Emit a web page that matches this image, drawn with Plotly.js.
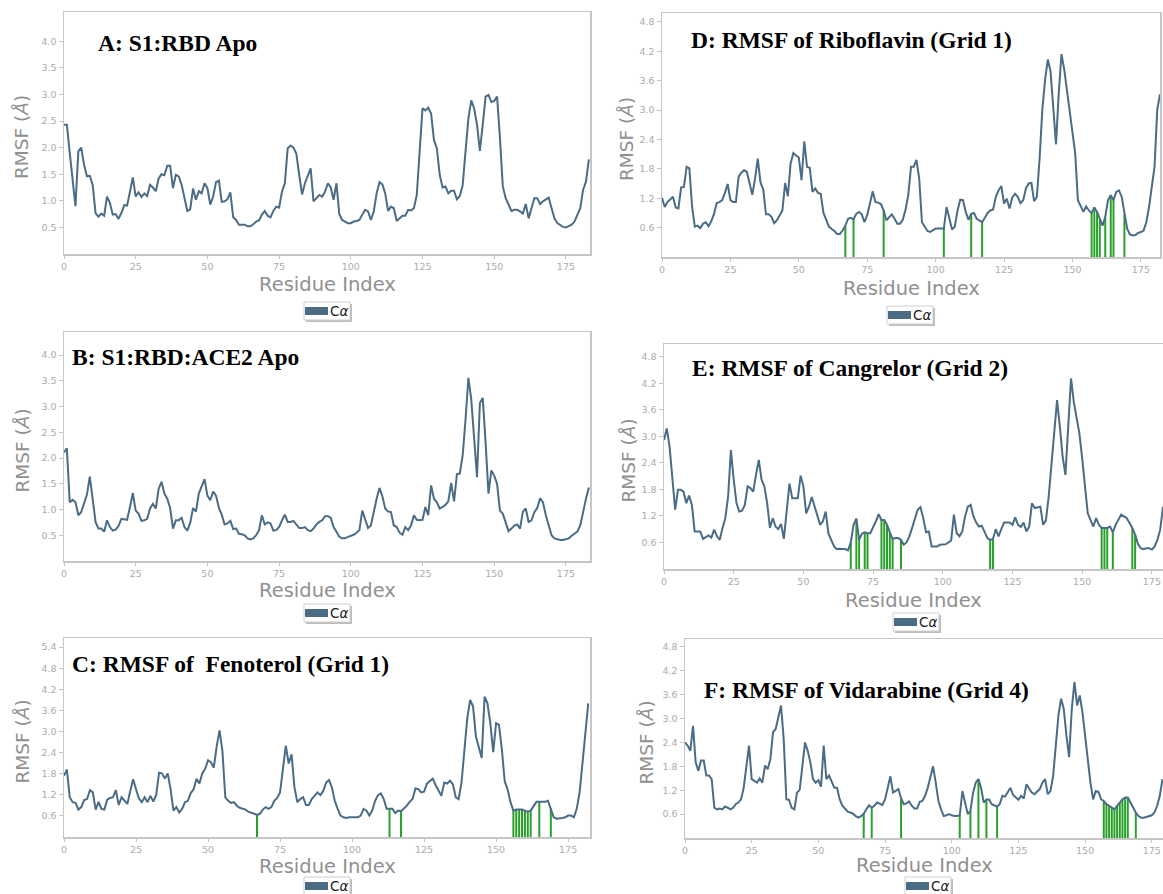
<!DOCTYPE html>
<html>
<head>
<meta charset="utf-8">
<script src="https://cdn.plot.ly/plotly-3.0.1.min.js"></script>
<style>
html,body{margin:0;padding:0;background:#fff;overflow:hidden;}
#chart{width:1163px;height:894px;}
</style>
</head>
<body>
<div id="chart"></div>
<script>
// ---------------- DATA ----------------
const panelTitles = [
  "A: S1:RBD Apo",
  "B: S1:RBD:ACE2 Apo",
  "C: RMSF of  Fenoterol (Grid 1)",
  "D: RMSF of Riboflavin (Grid 1)",
  "E: RMSF of Cangrelor (Grid 2)",
  "F: RMSF of Vidarabine (Grid 4)"
];
const xAxisTitle = "Residue Index";
const yAxisTitle = "RMSF (<i>Å</i>)";
const legendLabel = "C<i>α</i>";
const xTickVals = [0, 25, 50, 75, 100, 125, 150, 175];
const yTicksAB = [0.5, 1.0, 1.5, 2.0, 2.5, 3.0, 3.5, 4.0];
const yTicksC = [0.6, 1.2, 1.8, 2.4, 3.0, 3.6, 4.2, 4.8, 5.4];
const yTicksDEF = [0.6, 1.2, 1.8, 2.4, 3.0, 3.6, 4.2, 4.8];

const rmsfA = [2.43,2.43,1.9,1.36,0.9,1.93,2.0,1.68,1.46,1.47,
1.3,0.77,0.7,0.76,0.72,1.08,0.96,0.74,0.75,0.66,
0.77,0.92,0.91,1.17,1.44,1.08,1.16,1.07,1.14,1.09,
1.3,1.25,1.18,1.42,1.5,1.48,1.66,1.66,1.24,1.49,
1.46,1.3,1.05,0.81,0.84,1.23,1.02,1.18,1.14,1.33,
1.24,0.93,1.08,1.35,1.38,0.98,0.99,1.03,1.16,0.69,
0.64,0.55,0.55,0.55,0.52,0.52,0.56,0.61,0.63,0.74,
0.81,0.72,0.69,0.81,0.89,0.87,1.17,1.33,1.99,2.04,
2.0,1.89,1.49,1.12,1.33,1.49,1.61,0.99,1.05,1.11,
1.08,1.17,1.33,1.25,1.02,1.33,0.75,0.64,0.61,0.58,
0.58,0.61,0.62,0.64,0.74,0.83,0.8,0.64,0.8,1.14,
1.35,1.31,1.14,0.81,0.89,0.86,0.62,0.67,0.72,0.72,
0.83,0.82,0.86,1.11,1.92,2.74,2.7,2.75,2.64,2.14,
1.99,1.49,1.25,1.27,1.14,1.19,1.19,1.03,1.09,1.29,
1.93,2.55,2.89,2.74,2.43,1.94,2.43,2.96,2.99,2.86,
2.88,2.96,2.18,1.27,1.05,0.92,0.81,0.83,0.83,0.8,
0.76,0.94,0.67,0.86,1.05,1.05,0.94,0.99,1.02,1.06,
0.86,0.67,0.58,0.54,0.51,0.5,0.52,0.55,0.61,0.74,
0.86,1.21,1.36,1.78];

const rmsfB = [2.11,2.19,1.14,1.19,1.14,0.89,0.95,1.14,1.29,1.64,
1.14,0.76,0.63,0.63,0.57,0.79,0.66,0.59,0.61,0.68,
0.82,0.81,0.8,1.05,1.32,0.98,0.92,0.78,0.79,0.82,
1.02,1.11,1.02,1.4,1.54,1.31,1.21,1.03,0.63,0.79,
0.79,0.84,0.66,0.59,0.74,1.03,0.96,1.31,1.47,1.59,
1.27,1.18,1.35,1.27,1.03,0.9,0.71,0.73,0.78,0.62,
0.63,0.53,0.52,0.5,0.44,0.42,0.44,0.5,0.6,0.89,
0.71,0.75,0.73,0.59,0.6,0.66,0.79,0.9,0.76,0.76,
0.78,0.71,0.64,0.64,0.66,0.6,0.58,0.63,0.71,0.76,
0.79,0.87,0.87,0.84,0.66,0.57,0.47,0.44,0.44,0.47,
0.49,0.51,0.55,0.6,0.98,0.82,0.64,0.69,0.98,1.21,
1.42,1.26,1.02,0.96,0.95,0.69,0.66,0.55,0.51,0.66,
0.6,0.69,0.89,0.8,0.79,0.8,1.05,0.89,1.47,1.21,
1.14,1.02,1.05,1.09,1.16,1.52,1.16,1.69,1.7,2.05,
2.75,3.56,3.14,2.37,1.63,3.07,3.17,2.3,1.31,1.76,
1.66,1.5,0.98,0.92,0.73,0.58,0.63,0.69,0.71,0.63,
0.96,1.02,0.76,0.79,0.95,1.03,1.22,1.14,0.89,0.69,
0.5,0.44,0.42,0.41,0.41,0.42,0.44,0.49,0.53,0.57,
0.69,0.98,1.21,1.43];

const rmsfC = [1.74,1.92,1.13,0.99,0.97,0.78,0.85,1.05,1.08,1.33,
1.27,0.78,1.0,0.8,0.78,1.06,1.11,1.13,1.33,0.91,
1.13,1.03,0.94,1.31,1.64,1.36,1.1,0.99,1.13,0.99,
1.17,1.01,1.19,1.83,1.81,1.66,1.81,1.36,0.75,0.85,
0.7,0.8,0.99,1.03,1.25,1.36,1.66,1.52,1.81,1.94,
2.18,2.13,1.97,2.58,3.03,2.44,1.13,1.03,0.97,0.99,
0.89,0.83,0.8,0.78,0.72,0.7,0.66,0.63,0.66,0.78,
0.85,0.8,0.85,1.03,1.11,1.27,1.92,2.6,2.09,2.35,
1.41,0.99,1.08,1.13,0.91,0.91,1.08,1.19,1.27,1.19,
1.31,1.55,1.62,1.41,1.03,0.8,0.61,0.56,0.54,0.56,
0.56,0.56,0.56,0.61,0.8,0.75,0.61,0.75,1.03,1.19,
1.24,1.08,0.8,0.8,0.8,0.68,0.75,0.73,0.8,0.89,
1.0,1.08,1.38,1.36,1.27,1.29,1.52,1.58,1.66,1.48,
1.31,1.17,1.55,1.52,1.6,1.5,1.13,1.08,1.55,2.58,
3.38,3.9,3.71,2.86,2.58,2.25,3.99,3.8,3.24,2.41,
3.24,3.19,2.49,1.58,1.36,0.99,0.75,0.78,0.78,0.78,
0.75,0.72,0.75,0.89,1.0,1.0,0.99,1.0,1.03,0.82,
0.56,0.52,0.52,0.54,0.56,0.61,0.61,0.56,0.8,1.27,
2.11,2.96,3.8];

const rmsfD = [1.21,1.02,1.12,1.17,1.23,1.01,0.99,1.42,1.43,1.84,
1.81,1.02,0.62,0.64,0.59,0.68,0.71,0.63,0.73,0.88,
1.1,1.12,1.16,1.31,1.49,1.16,1.12,1.12,1.64,1.72,
1.77,1.74,1.5,1.27,1.6,2.01,1.52,1.38,0.87,0.87,
0.82,0.69,0.75,0.85,0.95,1.51,1.24,1.91,2.12,2.07,
2.03,1.57,2.36,1.84,1.82,1.33,1.4,1.31,1.29,0.9,
0.77,0.62,0.57,0.53,0.47,0.47,0.54,0.64,0.78,0.8,
0.77,0.88,0.92,0.87,0.71,0.86,1.09,1.34,1.12,1.11,
1.08,0.95,0.75,0.82,0.87,0.78,0.68,0.68,0.76,0.97,
1.26,1.84,1.84,1.98,1.6,0.71,0.61,0.53,0.51,0.55,
0.58,0.58,0.58,0.58,1.02,0.8,0.56,0.62,0.95,1.17,
1.16,0.92,0.76,0.88,0.9,0.78,0.75,0.71,0.8,0.9,
0.95,0.97,1.23,1.36,1.45,1.09,1.19,0.99,1.21,1.29,
1.23,1.1,1.16,1.4,1.5,1.51,1.14,1.23,2.01,3.01,
3.62,4.03,3.79,3.08,2.3,3.35,4.14,3.83,3.42,3.01,
2.56,2.12,1.16,1.02,0.92,1.03,0.95,0.9,1.01,0.92,
0.78,0.64,0.82,1.16,1.26,1.16,1.33,1.36,1.23,0.87,
0.58,0.46,0.44,0.45,0.49,0.51,0.54,0.71,1.02,1.43,
1.84,3.01,3.32];

const rmsfE = [2.92,3.18,2.77,2.02,1.34,1.79,1.79,1.75,1.49,1.66,
1.45,0.85,0.85,0.85,0.68,0.72,0.76,0.71,0.89,0.74,
0.66,0.93,1.15,1.64,2.69,2.02,1.49,1.3,1.32,1.45,
1.87,1.83,1.75,2.13,2.47,2.02,1.87,1.49,0.93,1.15,
0.96,0.9,1.02,0.68,1.26,1.93,1.6,1.6,1.6,2.11,
1.87,1.26,1.41,1.63,1.41,1.19,1.0,1.08,1.3,0.8,
0.66,0.51,0.45,0.46,0.45,0.45,0.42,0.6,1.0,1.14,
0.66,0.8,0.83,0.81,0.81,0.93,1.08,1.24,1.11,1.11,
1.0,0.83,0.68,0.7,0.7,0.66,0.55,0.6,0.74,0.93,
1.11,1.34,1.4,1.15,0.83,0.85,0.51,0.51,0.51,0.55,
0.56,0.56,0.6,0.64,1.23,0.81,0.74,0.85,1.19,1.41,
1.45,1.19,1.05,0.96,0.98,0.83,0.7,0.66,0.68,0.9,
0.74,0.9,1.05,1.05,1.05,1.0,1.17,1.0,0.95,1.05,
0.85,0.96,1.49,1.38,1.39,1.41,1.0,1.1,1.64,2.39,
3.07,3.82,3.22,2.54,2.13,3.26,4.31,3.78,3.45,3.07,
2.51,1.87,1.26,1.11,0.96,1.15,1.0,0.93,0.93,0.93,
0.96,0.83,1.0,1.11,1.23,1.19,1.15,1.04,0.93,0.78,
0.57,0.47,0.45,0.47,0.47,0.44,0.51,0.66,0.89,1.41];

const rmsfF = [2.4,2.32,2.19,2.82,1.9,1.69,1.95,1.95,1.57,1.57,
1.48,0.76,0.72,0.74,0.72,0.79,0.76,0.72,0.76,0.85,
0.89,0.97,1.26,1.73,2.32,1.48,1.44,1.39,1.5,1.39,
1.82,1.73,1.98,2.66,2.74,3.08,3.33,2.49,0.97,0.96,
0.76,0.72,1.14,1.21,1.77,2.4,2.19,1.9,1.48,1.39,
1.45,1.29,2.32,1.48,1.57,1.39,1.26,1.26,0.97,0.81,
0.72,0.66,0.64,0.61,0.55,0.51,0.55,0.61,0.72,0.82,
0.76,0.81,0.89,0.85,0.83,0.97,1.23,1.55,1.14,1.18,
1.23,1.0,0.85,0.87,0.92,0.81,0.74,0.74,0.91,0.93,
1.06,1.26,1.55,1.8,1.39,0.93,0.72,0.55,0.57,0.6,
0.57,0.55,0.55,0.57,1.18,0.89,0.6,0.68,1.14,1.39,
1.48,1.26,0.89,0.97,0.97,0.85,0.82,0.79,0.85,1.06,
1.04,1.16,1.26,1.08,1.02,0.96,1.06,0.99,1.35,1.23,
1.14,1.1,1.16,1.23,1.39,1.48,1.1,1.18,1.55,2.32,
3.08,3.5,3.24,2.57,2.03,3.24,3.92,3.33,3.58,3.16,
2.57,1.9,1.39,0.97,1.18,1.16,0.97,0.93,0.85,0.81,
0.76,0.72,0.81,0.89,0.97,1.02,1.02,0.89,0.76,0.64,
0.55,0.51,0.51,0.53,0.55,0.57,0.64,0.81,1.06,1.48];

// ligand-contact residues (green bars)
const contactsA = [];
const contactsB = [];
const contactsC = [67,113,117,156,157,158,159,160,161,162,165,169];
const contactsD = [67,70,81,103,113,117,157,158,159,160,162,164,165,169];
const contactsE = [67,69,70,72,73,78,79,80,81,82,85,117,118,157,158,159,161,168,169];
const contactsF = [67,70,81,103,107,110,113,117,157,158,159,160,161,162,163,164,165,166,169];

// ---------------- LAYOUT GEOMETRY (pixels) ----------------
const W = 1163, H = 894;
const panels = [
  {series: rmsfA, contacts: contactsA, yticks: yTicksAB, ymax: 4.55, xmax: 183.4, box:[64,590,12,254],   titlePos:[96,43],   ytitleX:22,  xtitleOff:31, legend:[327,311], mirrorY:true},
  {series: rmsfB, contacts: contactsB, yticks: yTicksAB, ymax: 4.45, xmax: 183.4, box:[64,590,332,561],  titlePos:[70,357],  ytitleX:22,  xtitleOff:29, legend:[327,613], mirrorY:true},
  {series: rmsfC, contacts: contactsC, yticks: yTicksC,  ymax: 5.66, xmax: 182.6, box:[64,590,638,837],  titlePos:[70,664],  ytitleX:22,  xtitleOff:29, legend:[327,886], mirrorY:true},
  {series: rmsfD, contacts: contactsD, yticks: yTicksDEF,ymax: 4.98, xmax: 182.0, box:[662,1160,13,257], titlePos:[689,40],  ytitleX:626, xtitleOff:31, legend:[910,315], mirrorY:true},
  {series: rmsfE, contacts: contactsE, yticks: yTicksDEF,ymax: 5.09, xmax: 179.0, box:[664,1163,344,569],titlePos:[690,368], ytitleX:628, xtitleOff:31, legend:[916,622], mirrorY:false},
  {series: rmsfF, contacts: contactsF, yticks: yTicksDEF,ymax: 5.0,  xmax: 179.2, box:[685,1163,639,838],titlePos:[702,690], ytitleX:646, xtitleOff:27, legend:[928,886], mirrorY:false}
];

const LINE = '#4a6c85';
const GREEN = '#2aa02a';
const FRAME = '#c6c6c6';
const TICKC = '#ababab';
const TITLEC = '#909090';
const px = x => x / W;
const py = y => 1 - y / H;

const traces = [];
const annotations = [];
const shapes = [];
const layout = {
  width: W, height: H,
  margin: {l:0, r:0, t:0, b:0},
  paper_bgcolor: '#fff', plot_bgcolor: '#fff',
  showlegend: false,
  font: {family: 'DejaVu Sans, sans-serif'}
};

panels.forEach((p, i) => {
  const n = i + 1;
  const xa = n === 1 ? 'x' : 'x' + n;
  const ya = n === 1 ? 'y' : 'y' + n;
  const residues = p.series.map((_, k) => k);

  // green contact bars: from 0 to the RMSF value of that residue
  if (p.contacts.length) {
    const gx = [], gy = [];
    p.contacts.forEach(r => { gx.push(r, r, null); gy.push(0, p.series[r], null); });
    traces.push({x: gx, y: gy, xaxis: xa, yaxis: ya, mode: 'lines',
      line: {color: GREEN, width: 2}, hoverinfo: 'skip'});
  }
  traces.push({x: residues, y: p.series, xaxis: xa, yaxis: ya, mode: 'lines',
    line: {color: LINE, width: 2}, name: 'Cα'});

  const [x0, x1, y0, y1] = p.box;
  layout['xaxis' + (n === 1 ? '' : n)] = {
    domain: [px(x0), Math.min(1, px(x1))], anchor: ya,
    range: [0, p.xmax], tickvals: xTickVals,
    showline: true, linecolor: FRAME, linewidth: 1.5, mirror: true,
    ticks: 'outside', ticklen: 3, tickcolor: FRAME, tickwidth: 1,
    showgrid: false, zeroline: false,
    tickfont: {size: 9.5, color: TICKC, family: 'DejaVu Sans'}
  };
  layout['yaxis' + (n === 1 ? '' : n)] = {
    domain: [py(y1), py(y0)], anchor: xa,
    range: [0, p.ymax], tickvals: p.yticks, tickformat: '.1f',
    showline: true, linecolor: FRAME, linewidth: 1.5, mirror: p.mirrorY,
    ticks: 'outside', ticklen: 4, tickcolor: FRAME, tickwidth: 1,
    showgrid: false, zeroline: false,
    tickfont: {size: 9.5, color: TICKC, family: 'DejaVu Sans'}
  };

  // panel title
  annotations.push({xref: 'paper', yref: 'paper', x: px(p.titlePos[0]), y: py(p.titlePos[1]),
    xanchor: 'left', yanchor: 'middle', showarrow: false, text: '<b>' + panelTitles[i] + '</b>',
    font: {family: 'Liberation Serif, Times New Roman, serif', size: 23.5, color: '#000'}});
  // x title
  annotations.push({xref: 'paper', yref: 'paper', x: px((x0 + x1) / 2), y: py(y1 + p.xtitleOff),
    xanchor: 'center', yanchor: 'middle', showarrow: false, text: xAxisTitle,
    font: {family: 'DejaVu Sans', size: 19.5, color: TITLEC}});
  // y title
  annotations.push({xref: 'paper', yref: 'paper', x: px(p.ytitleX), y: py((y0 + y1) / 2 + 4),
    xanchor: 'center', yanchor: 'middle', showarrow: false, text: yAxisTitle, textangle: -90,
    font: {family: 'DejaVu Sans', size: 18.5, color: TITLEC}});

  // legend box
  const [lx, ly] = p.legend;
  shapes.push({type: 'rect', xref: 'paper', yref: 'paper', x0: px(lx - 21), x1: px(lx + 25), y0: py(ly + 11), y1: py(ly - 7),
    line: {width: 0}, fillcolor: '#bdbdbd', layer: 'above'});
  shapes.push({type: 'rect', xref: 'paper', yref: 'paper', x0: px(lx - 23), x1: px(lx + 23), y0: py(ly + 9), y1: py(ly - 9),
    line: {width: 1, color: '#cfcfcf'}, fillcolor: '#fff', layer: 'above'});
  shapes.push({type: 'rect', xref: 'paper', yref: 'paper', x0: px(lx - 22), x1: px(lx + 1), y0: py(ly + 4), y1: py(ly - 4),
    line: {width: 0}, fillcolor: LINE, layer: 'above'});
  annotations.push({xref: 'paper', yref: 'paper', x: px(lx + 1), y: py(ly),
    xanchor: 'left', yanchor: 'middle', showarrow: false, text: legendLabel,
    font: {family: 'DejaVu Sans', size: 13.5, color: '#222'}});
});

layout.annotations = annotations;
layout.shapes = shapes;

Plotly.newPlot('chart', traces, layout, {displayModeBar: false, staticPlot: true});
</script>
</body>
</html>
